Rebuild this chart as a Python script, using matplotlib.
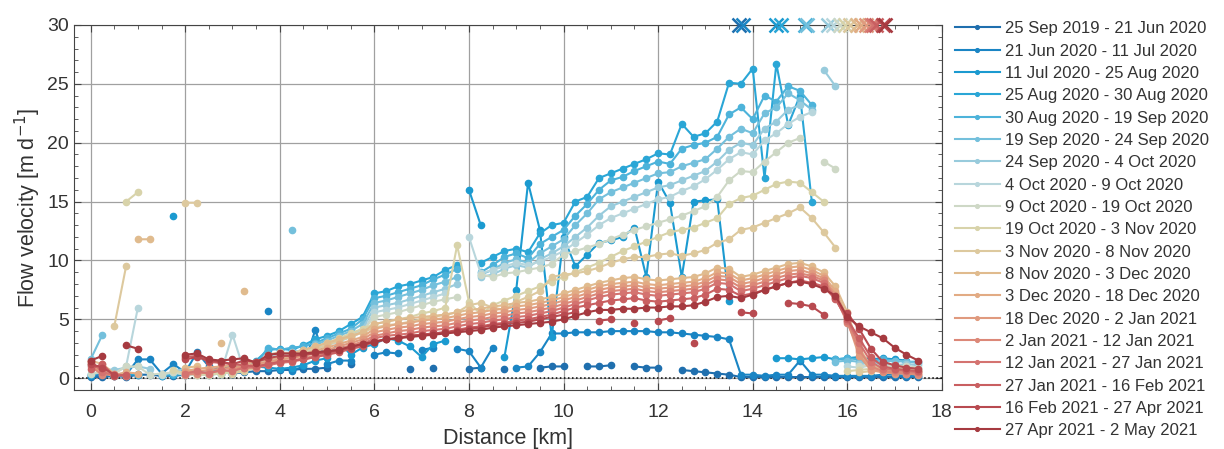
import numpy as np
import matplotlib
matplotlib.use('Agg')
import matplotlib.pyplot as plt
from matplotlib.ticker import MultipleLocator

nan = np.nan

# Sample positions along the profile [km]
distance_km = [0, 0.25, 0.5, 0.75, 1, 1.25, 1.5, 1.75, 2, 2.25,
               2.5, 2.75, 3, 3.25, 3.5, 3.75, 4, 4.25, 4.5, 4.75,
               5, 5.25, 5.5, 5.75, 6, 6.25, 6.5, 6.75, 7, 7.25,
               7.5, 7.75, 8, 8.25, 8.5, 8.75, 9, 9.25, 9.5, 9.75,
               10, 10.25, 10.5, 10.75, 11, 11.25, 11.5, 11.75, 12, 12.25,
               12.5, 12.75, 13, 13.25, 13.5, 13.75, 14, 14.25, 14.5, 14.75,
               15, 15.25, 15.5, 15.75, 16, 16.25, 16.5, 16.75, 17, 17.25, 17.5]

# Flow velocity [m/d] per period
v_sep19_jun20 = [0.1, 0.1, 0.2, 0.1, 0.3, 0.3, 0.2, 0.2, 0.3, nan,
                 0.4, nan, 0.4, 0.5, 0.6, 0.6, 0.7, 0.7, 0.8, 0.8,
                 0.9, nan, 1.2, nan, nan, nan, nan, 0.8, nan, 0.9,
                 nan, nan, 0.8, 0.9, nan, 0.8, nan, nan, 0.9, 1.0,
                 1.0, nan, 1.0, 1.0, 1.1, nan, 1.0, 0.9, 0.9, nan,
                 0.7, 0.6, 0.5, 0.4, 0.3, 0.1, 0.1, 0.1, 0.1, 0.1,
                 0.1, 0.1, 0.1, 0.1, 0.1, 0.1, 0.1, 0.1, 0.1, 0.1, 0.1]
v_jun20_jul20 = [0.2, 0.3, 0.2, 0.3, 1.6, 1.6, 0.4, 1.2, 0.5, 2.2,
                 1.0, 0.8, 1.0, 0.8, nan, 5.7, nan, 0.6, 1.0, 4.1,
                 1.2, 1.5, 1.5, nan, 2.0, 2.2, 2.1, nan, 2.4, 2.6,
                 nan, 2.5, 2.3, 0.9, 2.6, nan, 0.9, 1.0, 2.2, 3.8,
                 3.8, 3.9, 3.9, 3.9, 4.0, 4.0, 4.0, 4.0, 3.9, 3.9,
                 3.8, 3.7, 3.6, 3.5, 3.3, 0.3, 0.3, 0.2, 0.3, 0.3,
                 1.5, 0.3, 0.3, 0.2, 0.2, 0.2, 0.2, 0.3, 0.3, 0.2, 0.2]
v_jul20_aug20 = [0.3, nan, 0.3, 0.2, 0.4, nan, nan, 13.8, nan, 0.5,
                 0.6, 0.7, 0.5, nan, 1.0, 0.9, 0.8, 0.9, 1.1, 1.5,
                 1.7, 3.1, 2.0, 2.6, 2.9, 3.4, 3.2, 2.7, 1.8, 2.9,
                 3.2, nan, 16.0, 13.0, nan, 1.8, 7.5, 16.6, 12.6, 3.5,
                 12.0, 9.5, 10.5, 11.5, 11.7, 12.0, 12.8, 8.6, 16.7, 14.9,
                 8.6, 15.0, 15.1, 15.2, 6.6, nan, nan, nan, 1.7, 1.7,
                 1.6, 1.7, 1.8, 1.6, 1.7, 1.8, 1.6, 1.7, 1.6, 1.5, nan]
v_aug20_a = [0.4, 0.5, 0.3, 0.4, 0.3, nan, 0.2, 0.3, 0.3, 0.4,
             0.3, 0.4, 0.5, 0.6, 1.5, 2.4, 2.5, 2.4, 2.8, 3.3,
             3.6, 4.0, 4.6, 5.2, 7.2, 7.4, 7.8, 8.0, 8.3, 8.6,
             9.2, 9.6, nan, 9.8, 10.3, 10.8, 11.0, 10.7, 12.3, 13.0,
             13.2, 15.0, 15.4, 17.0, 17.4, 17.8, 18.2, 18.6, 19.1, 19.0,
             21.6, 20.5, 20.8, 21.8, 25.1, 25.0, 26.3, 17.0, 26.7, 21.5,
             24.0, 15.0, nan, nan, nan, nan, nan, nan, nan, nan, nan]
v_aug20_sep20 = [nan, nan, 0.3, nan, 0.4, nan, 0.3, 0.4, nan, 0.5,
                 0.6, 0.5, 0.4, 0.8, 1.2, 2.6, 2.4, 2.6, 2.7, 3.0,
                 3.4, 3.8, 4.2, 5.0, 6.8, 7.0, 7.3, 7.6, 7.9, 8.4,
                 8.8, 9.3, nan, 9.0, 9.6, 10.3, 10.6, 10.2, 11.4, 12.0,
                 12.6, 13.8, 14.8, 16.0, 16.8, 17.1, 17.6, 18.0, 18.4, 18.2,
                 19.5, 19.8, 20.0, 20.5, 22.4, 23.0, 22.0, 24.0, 23.5, 24.8,
                 24.4, 23.2, nan, 1.6, 1.7, 1.6, 1.5, 1.6, 1.5, 1.4, 1.4]
v_sep20_a = [1.6, 3.7, nan, nan, nan, nan, nan, nan, nan, nan,
             nan, nan, nan, nan, nan, nan, nan, 12.6, nan, 2.9,
             3.2, 3.6, 4.0, 4.6, 6.4, 6.6, 6.9, 7.2, 7.5, 7.9,
             8.2, 8.6, nan, 8.8, 9.2, 9.8, 10.1, 9.8, 10.6, 11.2,
             11.8, 13.0, 14.0, 15.2, 15.8, 16.2, 16.6, 17.0, 17.4, 17.5,
             18.0, 18.3, 18.6, 19.5, 20.5, 21.2, 20.8, 22.5, 23.0, 24.2,
             23.6, 22.8, nan, 1.4, 1.5, 1.4, 1.3, 1.4, 1.5, 1.4, 1.3]
v_sep20_oct20 = [1.2, 0.8, 0.7, 0.9, 1.0, 0.8, nan, 0.6, 0.8, 0.6,
                 0.5, 0.4, 0.5, nan, 1.1, 1.9, 2.1, 2.2, 2.4, 2.7,
                 3.0, 3.3, 3.7, 4.2, 6.0, 6.2, 6.4, 6.7, 7.0, 7.3,
                 7.6, 8.0, nan, 8.6, 8.8, 9.3, 9.6, 9.4, 10.1, 10.6,
                 11.2, 12.0, 12.8, 13.8, 14.6, 15.0, 15.4, 15.8, 16.2, 16.4,
                 16.8, 17.2, 17.6, 18.4, 19.4, 20.0, 19.8, 21.2, 21.8, 22.8,
                 23.2, nan, 26.2, 24.8, nan, 1.2, 1.3, 1.2, 1.1, 1.2, 1.1]
v_oct20_a = [1.0, 0.6, 0.4, 1.0, 6.0, nan, 0.3, 0.5, 0.3, 0.3,
             0.3, 0.4, 3.7, 0.6, 1.0, 1.4, 1.8, 2.0, 2.2, 2.5,
             2.8, 3.1, 3.5, 3.9, 5.6, 5.8, 6.0, 6.3, 6.6, 6.9,
             7.2, nan, 12.0, 8.9, 9.2, 9.5, 9.8, 9.6, 9.9, 10.3,
             10.8, 11.5, 12.2, 13.0, 13.6, 14.0, 14.4, 14.8, 15.2, 15.4,
             15.9, 16.3, 16.9, 17.7, 18.6, 19.2, 19.0, 20.2, 20.8, 21.6,
             22.2, 22.6, nan, nan, 1.0, 0.9, 1.1, 1.0, 1.1, 1.0, 0.9]
v_oct20_b = [0.4, 0.5, 0.4, 1.0, 1.0, 0.3, 0.4, 0.5, 0.3, 0.3,
             0.4, 0.5, 0.6, 0.9, 1.2, 1.6, 1.9, 2.1, 2.4, 2.7,
             3.0, 3.3, 3.6, 4.0, 5.2, 5.4, 5.6, 5.9, 6.2, 6.5,
             6.7, 6.9, nan, 8.8, 8.6, 8.9, 9.0, 9.2, 9.4, 9.7,
             10.5, 10.8, 11.1, 11.4, 11.8, 12.2, 12.6, 12.9, 13.2, 13.5,
             13.8, 14.2, 14.6, 15.4, 16.8, 17.6, 17.5, 18.4, 19.2, 20.0,
             20.4, nan, 18.4, 17.8, nan, 1.0, 1.1, 1.0, 1.1, 1.0, 0.9]
v_oct20_nov20 = [nan, nan, nan, 15.0, 15.8, nan, nan, 0.7, 0.4, 0.3,
                 0.3, 0.4, 0.5, 0.8, 1.0, 1.3, 1.6, 1.9, 2.3, 2.6,
                 3.0, 3.4, 3.8, 4.2, 4.6, 4.8, 5.0, 5.2, 5.5, 5.7,
                 6.0, 11.3, 6.5, 5.4, 6.2, 6.6, 7.0, 7.4, 7.8, 8.2,
                 8.6, 9.0, 9.4, 9.8, 10.3, 10.8, 11.2, 11.6, 12.0, 12.4,
                 12.6, 12.8, 13.2, 13.6, 14.8, 15.3, 15.5, 16.0, 16.5, 16.7,
                 16.6, 15.8, 15.0, nan, 0.6, 0.7, 0.8, 0.8, 0.9, 0.8, 0.7]
v_nov20_a = [nan, nan, 4.4, 9.5, nan, nan, nan, nan, 14.9, 14.9,
             nan, nan, 0.4, 0.6, 0.9, 1.2, 1.5, 1.8, 2.1, 2.4,
             2.8, 3.2, 3.5, 3.9, 4.3, 4.5, 4.6, 4.8, 5.0, 5.2,
             5.4, 5.6, 6.2, 6.4, 6.0, 5.8, 6.5, 6.9, 7.4, 8.6,
             8.8, 8.9, 9.1, 9.4, 9.8, 10.1, 10.3, 10.3, 10.5, 10.6,
             10.4, 10.6, 10.9, 11.5, 11.8, 12.6, 12.8, 13.2, 13.6, 14.0,
             14.5, 13.6, 12.4, 11.1, nan, 0.5, 0.6, 0.6, 0.7, 0.6, 0.5]
v_nov20_dec20 = [1.5, 1.2, 0.4, nan, 11.8, 11.8, nan, nan, 0.9, 1.0,
                 nan, 3.0, nan, 7.4, nan, 2.0, 2.2, 2.1, 2.4, 2.7,
                 3.0, 3.3, 3.6, 3.9, 4.6, 4.8, 5.0, 5.1, 5.2, 5.3,
                 5.4, 5.6, 5.8, 5.9, 6.1, 6.2, 6.4, 6.5, 6.7, 6.9,
                 7.2, 7.5, 7.8, 8.1, 8.3, 8.5, 8.6, 8.4, 8.3, 8.4,
                 8.5, 8.6, 8.9, 9.4, 9.3, 8.6, 8.8, 9.1, 9.4, 9.7,
                 9.8, 9.5, 9.0, 7.8, 5.6, 2.6, 1.0, 0.8, 0.7, 0.6, 0.6]
v_dec20_a = [1.4, 0.6, 0.3, 0.5, 0.4, nan, nan, nan, 0.6, 0.8,
             0.9, 1.0, 1.1, 1.2, 1.4, 1.6, 1.8, 1.9, 2.1, 2.3,
             2.6, 2.9, 3.2, 3.5, 4.2, 4.4, 4.6, 4.7, 4.9, 5.0,
             5.1, 5.3, 5.5, 5.6, 5.8, 5.9, 6.1, 6.2, 6.4, 6.6,
             6.9, 7.2, 7.5, 7.8, 8.0, 8.1, 8.2, 8.0, 7.9, 8.0,
             8.1, 8.2, 8.5, 9.0, 8.9, 8.3, 8.5, 8.8, 9.1, 9.4,
             9.5, 9.2, 8.7, 7.4, 5.2, 2.2, 0.8, 0.6, 0.5, 0.5, 0.4]
v_dec20_jan21 = [1.2, 0.4, 0.2, 0.3, nan, nan, nan, nan, 0.5, 0.6,
                 0.7, 0.8, 0.9, 1.0, 1.2, 1.4, 1.6, 1.7, 1.9, 2.1,
                 2.4, 2.7, 3.0, 3.3, 3.9, 4.1, 4.3, 4.4, 4.6, 4.7,
                 4.8, 5.0, 5.2, 5.3, 5.5, 5.6, 5.8, 5.9, 6.1, 6.3,
                 6.6, 6.9, 7.2, 7.5, 7.7, 7.8, 7.9, 7.7, 7.6, 7.7,
                 7.8, 7.9, 8.2, 8.7, 8.6, 8.0, 8.2, 8.5, 8.8, 9.1,
                 9.2, 8.9, 8.5, 7.1, 4.9, 1.9, 0.7, 0.5, 0.4, 0.4, 0.3]
v_jan21_a = [1.0, 0.3, 0.4, 0.2, nan, nan, nan, nan, 0.3, 0.4,
             0.5, 0.6, 0.7, 0.9, 1.0, 1.2, 1.4, 1.5, 1.7, 1.9,
             2.2, 2.5, 2.8, 3.1, 3.6, 3.8, 4.0, 4.1, 4.3, 4.4,
             4.5, 4.7, 4.9, 5.0, 5.2, 5.3, 5.5, 5.6, 5.8, 6.0,
             6.3, 6.6, 6.9, 7.2, 7.4, 7.5, 7.6, 7.4, 7.3, 7.4,
             7.5, 7.6, 7.9, 8.4, 8.3, 7.7, 7.9, 8.2, 8.5, 8.8,
             8.9, 8.7, 8.3, 6.9, 4.7, 2.4, 1.0, 0.6, 0.5, 0.4, 0.4]
v_jan21_b = [1.5, 0.5, 0.3, 0.2, nan, nan, nan, nan, 0.4, 0.6,
             0.4, 0.7, 0.6, 0.9, 0.9, 1.1, 1.3, 1.4, 1.6, 1.8,
             2.0, 2.3, 2.6, 2.9, 3.4, 3.6, 3.7, 3.8, 4.0, 4.1,
             4.2, 4.4, 4.6, 4.7, 4.9, 5.0, 5.2, 5.3, 5.5, 5.7,
             6.0, 6.3, 6.6, 6.9, 7.1, 7.2, 7.3, 7.1, 7.0, 7.1,
             7.2, 7.3, 7.6, 8.1, 8.0, 7.4, 7.6, 7.9, 8.2, 8.5,
             8.7, 8.5, 8.1, 6.8, 4.9, 3.0, 1.4, 0.8, 0.7, 0.6, 0.5]
v_jan21_feb21 = [0.8, 1.2, 0.2, 0.3, nan, nan, nan, nan, 1.8, 1.9,
                 1.4, 1.3, 1.2, 1.1, 1.0, 1.2, 1.4, 1.5, 1.6, 1.8,
                 2.0, 2.2, 2.5, 2.7, 3.1, 3.3, 3.4, 3.6, 3.7, 3.8,
                 3.9, 4.1, 4.3, 4.4, 4.6, 4.7, 4.9, 5.0, 5.2, 5.4,
                 5.7, 6.0, 6.2, 6.4, 6.6, 6.7, 6.8, 6.6, 6.5, 6.6,
                 6.7, 6.8, 7.1, 7.6, 7.5, 7.0, 7.2, 7.5, 7.8, 8.1,
                 8.3, 8.1, 7.8, 6.7, 5.0, 3.4, 1.8, 1.0, 0.8, 0.7, 0.6]
v_feb21_apr21 = [1.2, 0.9, 0.3, nan, nan, nan, nan, nan, 1.6, 1.8,
                 1.5, 1.4, 1.2, 1.5, 1.4, 1.7, 1.9, 1.9, 2.0, 2.1,
                 2.2, 2.4, 2.6, 2.9, 3.1, 3.3, 3.4, 3.6, 3.7, 3.8,
                 3.9, 4.0, 4.2, 4.3, 4.5, 4.6, 4.7, 4.8, 5.0, 5.2,
                 5.4, 5.6, nan, 4.9, 5.0, nan, 4.7, nan, 4.9, 5.1,
                 nan, 3.0, nan, nan, nan, 5.6, 5.5, nan, nan, 6.4,
                 6.3, 6.1, 5.4, nan, 5.5, 4.2, 2.5, 1.4, 1.1, 0.9, 0.8]
v_apr21_may21 = [1.5, 1.9, nan, 2.8, 2.5, nan, nan, nan, 2.0, 2.1,
                 1.6, 1.5, 1.6, 1.7, 1.3, 2.0, 2.1, 2.1, 2.1, 2.2,
                 2.3, 2.4, 2.7, 2.9, 3.1, 3.3, 3.4, 3.5, 3.6, 3.7,
                 3.8, 3.9, 4.0, 4.1, 4.3, 4.4, 4.5, 4.6, 4.7, 4.8,
                 5.0, 5.3, 5.6, 5.8, 5.8, 5.9, 5.9, 6.0, 6.0, 6.1,
                 6.1, 6.2, 6.5, 6.9, 7.0, 6.8, 7.1, 7.5, 7.8, 8.1,
                 8.2, 8.0, 7.6, 7.0, 5.2, 4.4, 3.9, 3.4, 2.6, 2.0, 1.5]

periods = ['25 Sep 2019 - 21 Jun 2020', '21 Jun 2020 - 11 Jul 2020',
           '11 Jul 2020 - 25 Aug 2020', '25 Aug 2020 - 30 Aug 2020',
           '30 Aug 2020 - 19 Sep 2020', '19 Sep 2020 - 24 Sep 2020',
           '24 Sep 2020 - 4 Oct 2020', '4 Oct 2020 - 9 Oct 2020',
           '9 Oct 2020 - 19 Oct 2020', '19 Oct 2020 - 3 Nov 2020',
           '3 Nov 2020 - 8 Nov 2020', '8 Nov 2020 - 3 Dec 2020',
           '3 Dec 2020 - 18 Dec 2020', '18 Dec 2020 - 2 Jan 2021',
           '2 Jan 2021 - 12 Jan 2021', '12 Jan 2021 - 27 Jan 2021',
           '27 Jan 2021 - 16 Feb 2021', '16 Feb 2021 - 27 Apr 2021',
           '27 Apr 2021 - 2 May 2021']

# terminus position of each period [km]
terminus_km = [13.7, 13.8, 14.5, 14.6, 15.1, 15.15, 15.6, 15.7, 15.85, 15.95,
               16.05, 16.2, 16.3, 16.4, 16.5, 16.55, 16.6, 16.75, 16.8]

colors = ['#1f6fae', '#1a85c4', '#1b9ad0', '#2aa6d6', '#4db3da', '#74c0dc',
          '#98cbdc', '#b8d6dc', '#ced8c6', '#d8d3aa', '#ddc99e', '#e0bb8e',
          '#e2ab84', '#e09a7e', '#dc8878', '#d47370', '#c95f61', '#b84a50',
          '#a63a40']

series = [v_sep19_jun20, v_jun20_jul20, v_jul20_aug20, v_aug20_a, v_aug20_sep20,
          v_sep20_a, v_sep20_oct20, v_oct20_a, v_oct20_b, v_oct20_nov20,
          v_nov20_a, v_nov20_dec20, v_dec20_a, v_dec20_jan21, v_jan21_a,
          v_jan21_b, v_jan21_feb21, v_feb21_apr21, v_apr21_may21]

plt.rcParams['font.family'] = ['Liberation Sans', 'DejaVu Sans']

fig = plt.figure(figsize=(12.24, 4.49), dpi=100)
ax = fig.add_axes([0.0605, 0.1314, 0.709, 0.813])

for vals, col, lab in zip(series, colors, periods):
    ax.plot(distance_km, vals, '-o', color=col, lw=1.5, ms=4.5, mec=col, label=lab)

ax.axhline(0, color='k', ls=':', lw=1.1, zorder=1.5)

# terminus markers on the top frame
for t, col in zip(terminus_km, colors):
    ax.plot([t], [1], 'x', color=col, ms=10, mew=1.8,
            transform=ax.get_xaxis_transform(), clip_on=False, zorder=5)

ax.set_xlim(-0.35, 18)
ax.set_ylim(-1, 30)
ax.set_xticks(range(0, 19, 2))
ax.set_yticks(range(0, 31, 5))
ax.xaxis.set_minor_locator(MultipleLocator(0.5))
ax.yaxis.set_minor_locator(MultipleLocator(1))
ax.tick_params(which='both', direction='in', top=True, right=True, colors='#444444',
               labelcolor='#333333', labelsize=14)
ax.tick_params(which='major', length=5)
ax.tick_params(which='minor', length=3)
ax.tick_params(axis='x', which='major', pad=10)
ax.grid(True, which='major', color='#a0a0a0', lw=0.9)
ax.set_axisbelow(True)
for s in ax.spines.values():
    s.set_color('#444444')

ax.set_xlabel('Distance [km]', fontsize=15.5, color='#333333', labelpad=5)
ax.set_ylabel('Flow velocity [m d$^{-1}$]', fontsize=15.5, color='#333333', labelpad=3)

ax.legend(loc='upper left', bbox_to_anchor=(1.015, 1.01), frameon=False,
          fontsize=12, labelspacing=0.44, handlelength=2.7, handletextpad=0.3,
          markerscale=0.6, borderaxespad=0, borderpad=0, labelcolor='#333333')

plt.savefig('out.png', dpi=100)
plt.close()
